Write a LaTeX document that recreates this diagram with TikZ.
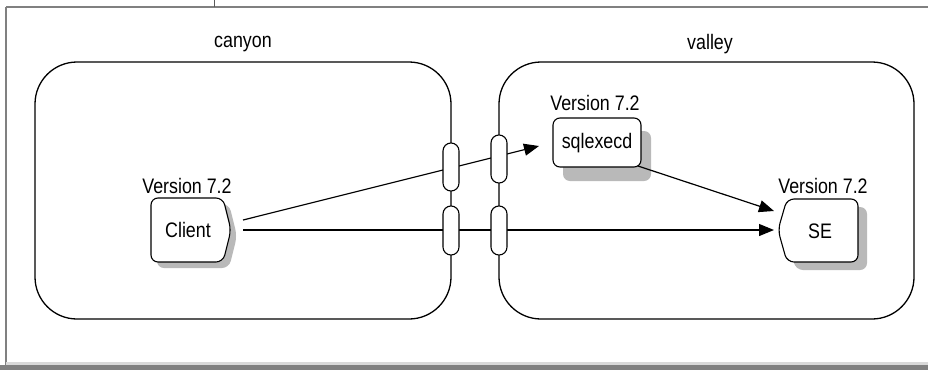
\documentclass[tikz,border=0pt]{standalone}
\usepackage{fontspec}
\setmainfont{Liberation Sans}[FakeStretch=0.85]
\usetikzlibrary{arrows.meta}
\definecolor{framegray}{RGB}{128,128,128}
\definecolor{shadowgray}{RGB}{185,185,185}
\tikzset{
  lbl/.style={font=\fontsize{21}{24}\selectfont, inner sep=0pt, anchor=center},
  hostbox/.style={draw=black, line width=1.3pt, rounded corners=42pt},
  procbox/.style={draw=black, fill=white, line width=1.1pt, rounded corners=7pt},
  shadowbox/.style={fill=shadowgray, draw=none, rounded corners=7pt},
  link/.style={draw=black, fill=white, line width=1.1pt, rounded corners=7.9pt},
  conn/.style={line width=1.2pt, -{Triangle[length=15pt,width=12pt]}},
}
\begin{document}
\begin{tikzpicture}[x=1pt,y=-1pt]
\useasboundingbox (0,0) rectangle (928,370);
\fill[white] (0,0) rectangle (928,370);
% frame
\draw[framegray, line width=2pt] (6,7) -- (928,7);
\draw[framegray, line width=2pt] (6,7) -- (6,370);
\fill[framegray] (0,365) rectangle (928,370);
\fill[black!15] (6,362) rectangle (928,365);
\draw[framegray!70!black, line width=1pt] (214,0) -- (214,7);
% hosts
\draw[hostbox] (35,62) rectangle (451,319);
\draw[hostbox] (499,62) rectangle (914,319);
\node[lbl] (canyon) at (243,44) {canyon};
\node[lbl] (valley) at (710,44) {valley};
% Client
\fill[shadowgray, rounded corners=7pt, shift={(6,6)}] (151,198) -- (223,198) -- (231,230) -- (223,262) -- (151,262) -- cycle;
\draw[procbox] (151,198) -- (223,198) -- (231,230) -- (223,262) -- (151,262) -- cycle;
\node[lbl] (client) at (188,230) {Client};
\node[lbl] (clientver) at (187,186) {Version 7.2};
% sqlexecd
\fill[shadowbox] (563,131) rectangle (651,181);
\draw[procbox] (553,118) rectangle (641,167);
\node[lbl] (sqlexecd) at (597,143) {sqlexecd};
\node[lbl] (sqlver) at (595,103) {Version 7.2};
% SE
\fill[shadowgray, rounded corners=7pt, shift={(9,8)}] (787,199) -- (858,199) -- (858,262) -- (787,262) -- (778,230) -- cycle;
\draw[procbox] (787,199) -- (858,199) -- (858,262) -- (787,262) -- (778,230) -- cycle;
\node[lbl] (se) at (820,231) {SE};
\node[lbl] (sever) at (823,186) {Version 7.2};
% connector end points
\coordinate (clientout1) at (243,220);
\coordinate (clientout2) at (243,230);
\coordinate (sqlin) at (539,146);
\coordinate (sqlout) at (638,166);
\coordinate (sein1) at (774,211);
\coordinate (sein2) at (774,230);
% connectors
\draw[conn] (clientout1) -- (sqlin);
\draw[conn] (clientout2) -- (sein2);
\draw[conn] (sqlout) -- (sein1);
% network links (ovals)
\draw[link] (443,143) rectangle (459,191);
\draw[link] (491,135) rectangle (507,183);
\draw[link] (443,206) rectangle (459,255);
\draw[link] (491,206) rectangle (507,255);
\end{tikzpicture}
\end{document}
